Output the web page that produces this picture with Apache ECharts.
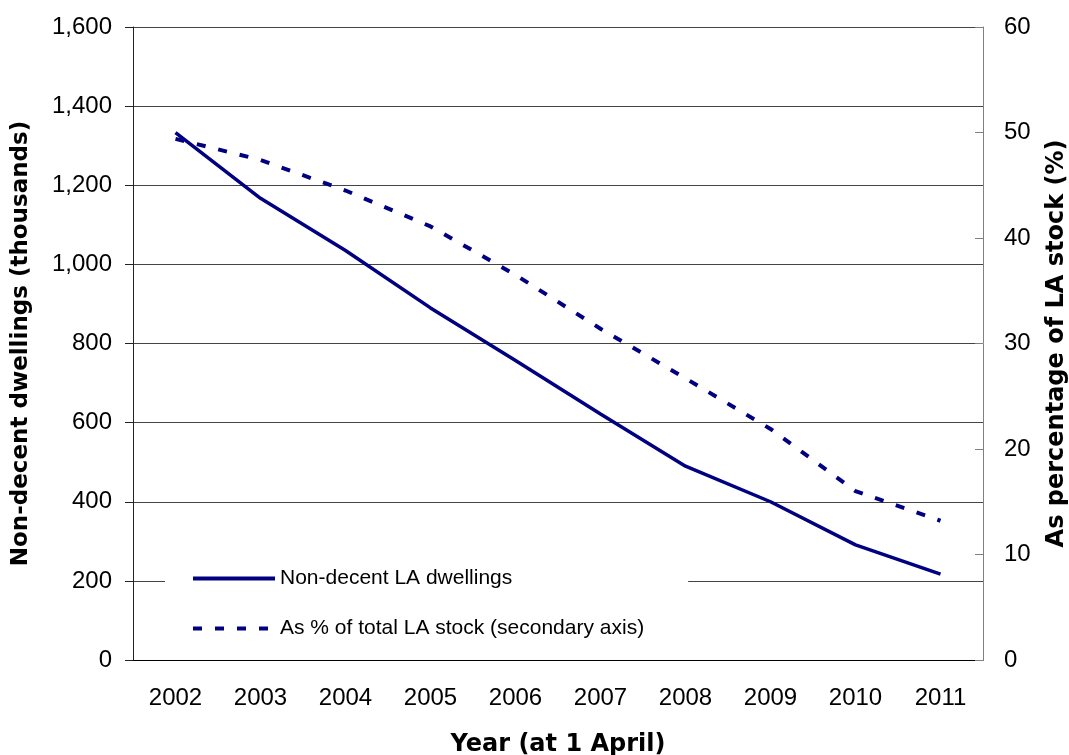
<!DOCTYPE html>
<html>
<head>
<meta charset="utf-8">
<script src="https://cdn.jsdelivr.net/npm/echarts@6/dist/echarts.min.js"></script>
<style>
  html, body { margin: 0; padding: 0; background: #fff; }
  #main { width: 1069px; height: 755px; }
</style>
</head>
<body>
<div id="main"></div>
<script>
// data
const years = ['2002', '2003', '2004', '2005', '2006', '2007', '2008', '2009', '2010', '2011'];
const nonDecent = [1333, 1167, 1035, 890, 757, 622, 490, 400, 291, 217];   // thousands
const pctStock = [49.4, 47.4, 44.5, 41.1, 36.5, 31.4, 26.7, 21.9, 16.0, 13.2]; // % of LA stock

const FONT = 'Liberation Sans, Arial, sans-serif';
const TITLE_FONT = 'DejaVu Sans, sans-serif'; // wider bold face, closer to the stretched titles
const NAVY = '#000080';

const chart = echarts.init(document.getElementById('main'));

chart.setOption({
  animation: false,
  backgroundColor: '#fff',
  textStyle: { fontFamily: FONT, color: '#000' },
  grid: { left: 133, right: 86, top: 27, bottom: 95, containLabel: false, outerBoundsMode: 'none' },
  legend: {
    orient: 'vertical',
    left: 165,
    top: 558,
    padding: [10, 44, 10, 26],
    backgroundColor: '#fff',
    itemWidth: 82,
    itemHeight: 20,
    itemGap: 29,
    itemStyle: { opacity: 0 },
    lineStyle: { width: 4 },
    textStyle: { fontFamily: FONT, fontSize: 21, color: '#000' },
    data: ['Non-decent LA dwellings', 'As % of total LA stock (secondary axis)']
  },
  xAxis: {
    type: 'category',
    data: years,
    boundaryGap: true,
    name: 'Year (at 1 April)',
    nameLocation: 'middle',
    nameGap: 73,
    nameTextStyle: { fontFamily: TITLE_FONT, fontSize: 24, fontWeight: 'bold', color: '#000' },
    axisLine: { lineStyle: { color: '#000', width: 1 } },
    axisTick: { length: 8, lineStyle: { color: '#000' } },
    axisLabel: { margin: 26, fontFamily: FONT, fontSize: 24, color: '#000' }
  },
  yAxis: [
    {
      type: 'value',
      min: 0,
      max: 1600,
      interval: 200,
      name: 'Non-decent dwellings (thousands)',
      nameLocation: 'middle',
      nameGap: 100,
      nameTextStyle: { fontFamily: TITLE_FONT, fontSize: 23, fontWeight: 'bold', color: '#000' },
      axisLine: { show: true, lineStyle: { color: '#222', width: 1 } },
      axisTick: { show: true, length: 8, lineStyle: { color: '#222' } },
      axisLabel: {
        margin: 21,
        fontFamily: FONT,
        fontSize: 24,
        color: '#000',
        formatter: v => v.toLocaleString('en-GB')
      },
      splitLine: { show: true, lineStyle: { color: '#444', width: 1 } }
    },
    {
      type: 'value',
      position: 'right',
      min: 0,
      max: 60,
      interval: 10,
      name: 'As percentage of LA stock (%)',
      nameLocation: 'middle',
      nameGap: 62,
      nameRotate: 90,
      nameTextStyle: { fontFamily: TITLE_FONT, fontSize: 24, fontWeight: 'bold', color: '#000' },
      axisLine: { show: true, lineStyle: { color: '#808080', width: 1 } },
      axisTick: { show: true, inside: true, length: 8, lineStyle: { color: '#808080' } },
      axisLabel: { margin: 21, fontFamily: FONT, fontSize: 24, color: '#000' },
      splitLine: { show: false }
    }
  ],
  series: [
    {
      name: 'Non-decent LA dwellings',
      type: 'line',
      yAxisIndex: 0,
      data: nonDecent,
      symbol: 'none',
      smooth: false,
      lineStyle: { color: NAVY, width: 3.5 },
      itemStyle: { color: NAVY },
      z: 3
    },
    {
      name: 'As % of total LA stock (secondary axis)',
      type: 'line',
      yAxisIndex: 1,
      data: pctStock,
      symbol: 'none',
      smooth: false,
      lineStyle: { color: NAVY, width: 4, type: [9, 13] },
      itemStyle: { color: NAVY },
      z: 2
    }
  ]
});
</script>
</body>
</html>
